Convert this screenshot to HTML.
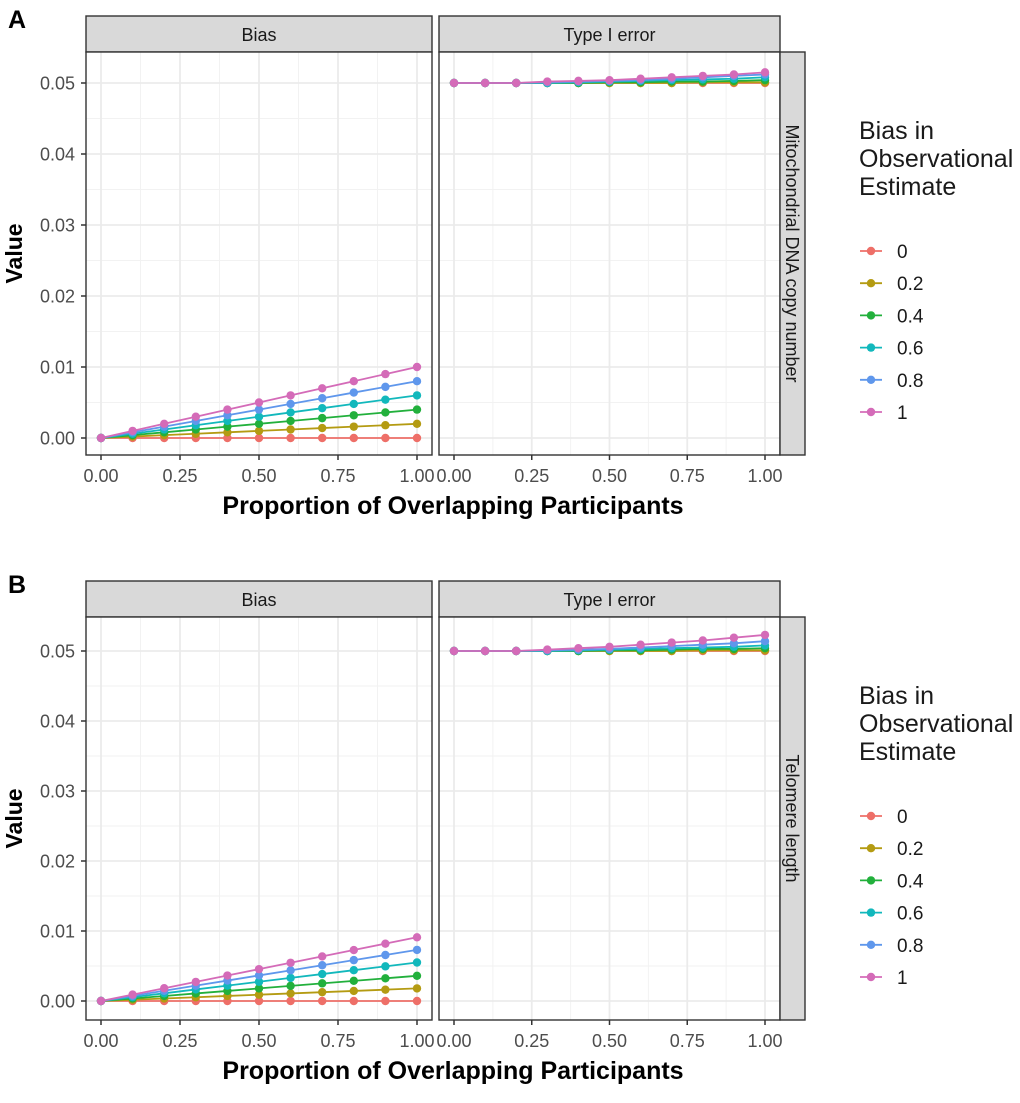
<!DOCTYPE html>
<html><head><meta charset="utf-8"><style>
body{margin:0;background:#fff;font-family:"Liberation Sans",Arial,sans-serif}
svg text{font-family:"Liberation Sans",Arial,sans-serif}
</style></head><body>
<svg id="fig" width="1020" height="1098" viewBox="0 0 1020 1098" xmlns="http://www.w3.org/2000/svg"></svg>
<script>
const xs=[0,0.1,0.2,0.3,0.4,0.5,0.6,0.7,0.8,0.9,1.0];
const groups=["0","0.2","0.4","0.6","0.8","1"];
const colors=["#EE6F68","#B49B12","#22B03C","#12B8BC","#5F97EC","#D46BB8"];
const xTicks=[0,0.25,0.5,0.75,1.0];
const xTickLabels=["0.00","0.25","0.50","0.75","1.00"];
const yTicks=[0,0.01,0.02,0.03,0.04,0.05];
const yTickLabels=["0.00","0.01","0.02","0.03","0.04","0.05"];
const biasEndA=[0,0.002,0.004,0.006,0.008,0.010];
const biasEndB=[0,0.0018,0.0036,0.0055,0.0073,0.0091];
const typeA=[
[0.05,0.05,0.05,0.05,0.05,0.05,0.05,0.05,0.05,0.05,0.05],
[0.05,0.05,0.05,0.05,0.05,0.05,0.05,0.0500,0.0501,0.0501,0.0501],
[0.05,0.05,0.05,0.05,0.05,0.0501,0.0501,0.0502,0.0502,0.0503,0.0504],
[0.05,0.05,0.05,0.05,0.0501,0.0502,0.0503,0.0504,0.0505,0.0506,0.0508],
[0.05,0.05,0.05,0.0501,0.0502,0.0503,0.0504,0.0506,0.0508,0.0510,0.0512],
[0.05,0.05,0.05,0.0502,0.0503,0.0504,0.0506,0.0508,0.0510,0.0512,0.0515]];
const typeB=[
[0.05,0.05,0.05,0.05,0.05,0.05,0.05,0.05,0.05,0.05,0.05],
[0.05,0.05,0.05,0.05,0.05,0.05,0.05,0.0500,0.0501,0.0501,0.0501],
[0.05,0.05,0.05,0.05,0.05,0.0501,0.0501,0.0502,0.0503,0.0503,0.0504],
[0.05,0.05,0.05,0.05,0.0501,0.0502,0.0503,0.0504,0.0505,0.0506,0.0508],
[0.05,0.05,0.05,0.0501,0.0502,0.0503,0.0505,0.0507,0.0509,0.0511,0.0514],
[0.05,0.05,0.05,0.0502,0.0504,0.0506,0.0509,0.0512,0.0515,0.0519,0.0523]];
const NS="http://www.w3.org/2000/svg";
const svg=document.getElementById('fig');
function el(tag,attrs,parent,text){const e=document.createElementNS(NS,tag);for(const k in attrs)e.setAttribute(k,attrs[k]);if(text!==undefined)e.textContent=text;(parent||svg).appendChild(e);return e;}
function figure(cfg){
  const g=el('g',{});
  
  
  const t=el('text',{x:8,y:cfg.top+12,'font-size':25,'font-weight':'bold'},g,cfg.letter);
  
  
  const pt=cfg.top+36, pb=cfg.bottom;
  const y=v=>cfg.y0+(cfg.y5-cfg.y0)*v/0.05;
  const facets=[{l:86,r:432,title:"Bias",kind:"bias"},{l:439,r:780,title:"Type I error",kind:"type"}];
  facets.forEach((f,fi)=>{
    const x=v=>f.l+15+v*(f.r-f.l-30);
    const s=el('rect',{x:f.l,y:cfg.top,width:f.r-f.l,height:36,fill:'#D9D9D9',stroke:'#333','stroke-width':1.4},g);
    
    
    el('text',{x:(f.l+f.r)/2,y:cfg.top+25,'font-size':18,'text-anchor':'middle',fill:'#1a1a1a'},g,f.title);
    el('rect',{x:f.l,y:pt,width:f.r-f.l,height:pb-pt,fill:'#fff'},g);
    for(let i=0;i<10;i++){const v=0.005+i*0.01;if(y(v)>pt)el('line',{x1:f.l,x2:f.r,y1:y(v),y2:y(v),stroke:'#F2F2F2','stroke-width':1},g);}
    [0.125,0.375,0.625,0.875].forEach(v=>el('line',{x1:x(v),x2:x(v),y1:pt,y2:pb,stroke:'#F2F2F2','stroke-width':1},g));
    yTicks.forEach(v=>el('line',{x1:f.l,x2:f.r,y1:y(v),y2:y(v),stroke:'#EBEBEB','stroke-width':1.8},g));
    xTicks.forEach((v,i)=>{
      el('line',{x1:x(v),x2:x(v),y1:pt,y2:pb,stroke:'#EBEBEB','stroke-width':1.8},g);
      el('line',{x1:x(v),x2:x(v),y1:pb,y2:pb+5,stroke:'#333','stroke-width':1.5},g);
      const tl=el('text',{x:x(v),y:pb+27,'font-size':18,'text-anchor':'middle',fill:'#4d4d4d'},g,xTickLabels[i]);
      
      
    });
    groups.forEach((gname,gi)=>{
      const vals=f.kind==='bias'?xs.map(p=>p*cfg.biasEnd[gi]):cfg.type[gi];
      const pl=el('polyline',{points:xs.map((p,i)=>x(p)+','+y(vals[i])).join(' '),fill:'none',stroke:colors[gi],'stroke-width':1.8},g);
      
      
      xs.forEach((p,i)=>{
        const c=el('circle',{cx:x(p),cy:y(vals[i]),r:4.2,fill:colors[gi]},g);
        
        
      });
    });
    el('rect',{x:f.l,y:pt,width:f.r-f.l,height:pb-pt,fill:'none',stroke:'#333','stroke-width':1.4},g);
    if(fi===0){
      yTicks.forEach((v,i)=>{
        el('line',{x1:f.l-5,x2:f.l,y1:y(v),y2:y(v),stroke:'#333','stroke-width':1.5},g);
        const tl=el('text',{x:f.l-11,y:y(v)+6.5,'font-size':18,'text-anchor':'end',fill:'#4d4d4d'},g,yTickLabels[i]);
        
        
      });
    }
  });
  const rs=el('rect',{x:780,y:pt,width:25,height:pb-pt,fill:'#D9D9D9',stroke:'#333','stroke-width':1.4},g);
  
  
  const cy=(pt+pb)/2;
  el('text',{x:792,y:cy,'font-size':18,'text-anchor':'middle',fill:'#1a1a1a',transform:`rotate(90 792 ${cy})`,'dominant-baseline':'central'},g,cfg.row);
  const yt=el('text',{x:22,y:cy,'font-size':23,'font-weight':'bold','text-anchor':'middle',transform:`rotate(-90 22 ${cy})`},g,'Value');
  
  
  const xt=el('text',{x:453,y:pb+59,'font-size':25,'font-weight':'bold','text-anchor':'middle'},g,'Proportion of Overlapping Participants');
  
  
  const lg=el('g',{},g);
  
  
  ['Bias in','Observational','Estimate'].forEach((s,i)=>el('text',{x:859,y:cfg.legTop+i*28,'font-size':25,fill:'#1a1a1a'},lg,s));
  groups.forEach((gname,gi)=>{
    const ly=cfg.legTop+112+gi*32.2;
    const e=el('g',{},lg);
    
    
    el('line',{x1:860,x2:882,y1:ly,y2:ly,stroke:colors[gi],'stroke-width':1.8},e);
    el('circle',{cx:871,cy:ly,r:4.2,fill:colors[gi]},e);
    el('text',{x:897,y:ly+7,'font-size':19,fill:'#1a1a1a'},e,gname);
  });
}
figure({letter:'A',top:16,bottom:455,y0:438,y5:83,biasEnd:biasEndA,type:typeA,row:'Mitochondrial DNA copy number',legTop:139});
figure({letter:'B',top:581,bottom:1020,y0:1001,y5:651,biasEnd:biasEndB,type:typeB,row:'Telomere length',legTop:704});
</script>
</body></html>
